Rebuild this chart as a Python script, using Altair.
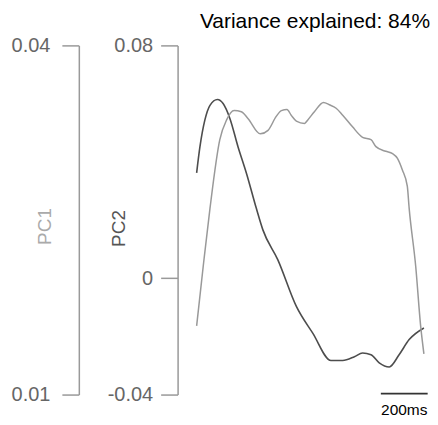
import altair as alt
import pandas as pd

# PC2 (dark line): time in ms, value
pc2_t = [3, 17, 38, 60, 92, 116, 145, 180, 216, 258, 286, 350, 429, 499, 577, 627, 677, 712, 748, 783, 826, 868, 911, 974]
pc2_v = [0.0362, 0.0451, 0.0543, 0.0594, 0.0614, 0.0600, 0.0549, 0.0451, 0.0360, 0.0240, 0.0166, 0.0063,
         -0.0097, -0.0189, -0.0283, -0.0283, -0.0270, -0.0257, -0.0263, -0.0291, -0.0305, -0.0263, -0.0211, -0.0171]

# PC1 (gray line)
pc1_t = [3, 31, 60, 102, 131, 163, 194, 223, 275, 308, 343, 365, 389, 407, 429, 464, 478, 506, 545, 570, 599,
         627, 669, 712, 748, 769, 811, 840, 861, 882, 903, 911, 939, 960, 974]
pc1_v = [0.0159, 0.0210, 0.0260, 0.0319, 0.0336, 0.0344, 0.0343, 0.0337, 0.0324, 0.0327, 0.0339, 0.0344,
         0.0345, 0.0340, 0.0335, 0.0333, 0.0336, 0.0343, 0.0351, 0.0349, 0.0346, 0.0340, 0.0330, 0.0321,
         0.0319, 0.0313, 0.0309, 0.0307, 0.0303, 0.0293, 0.0279, 0.0260, 0.0210, 0.0159, 0.0135]

pc1_ticks = [0.01, 0.04]
pc2_ticks = [-0.04, 0, 0.08]

bar_start = [790]
bar_end = [990]
bar_label = ["200ms"]
title_text = "Variance explained: 84%"

FONT = "Liberation Sans"

df1 = pd.DataFrame({"t": pc1_t, "v": pc1_v})
df2 = pd.DataFrame({"t": pc2_t, "v": pc2_v})
dfbar = pd.DataFrame({"s": bar_start, "e": bar_end, "m": [(a + b) / 2 for a, b in zip(bar_start, bar_end)], "lab": bar_label})

xscale = alt.Scale(domain=[-40, 1000], nice=False, zero=False)

label_expr = "datum.value == 0 ? '0' : (datum.value < 0 ? '-' : '') + format(abs(datum.value), '.2f')"

pc2 = alt.Chart(df2).mark_line(color="#4d4d4d", strokeWidth=1.6, interpolate="monotone").encode(
    x=alt.X("t:Q", scale=xscale, axis=None),
    y=alt.Y("v:Q", scale=alt.Scale(domain=[-0.04, 0.08], nice=False, zero=False),
            axis=alt.Axis(orient="left", offset=9, values=pc2_ticks, title="PC2",
                          tickSize=17, tickColor="#999999", tickWidth=1.5,
                          domainColor="#999999", domainWidth=1.5,
                          labelFont=FONT, labelFontSize=20, labelColor="#666666", labelPadding=8,
                          labelExpr=label_expr, labelOverlap=False, labelFlush=False, grid=False,
                          titleFont=FONT, titleFontSize=19, titleFontWeight="normal", titleColor="#555555",
                          titleAngle=-90, titleAlign="center", titleBaseline="middle",
                          titleX=-59, titleY=183)),
)

pc1 = alt.Chart(df1).mark_line(color="#999999", strokeWidth=1.5, interpolate="monotone").encode(
    x=alt.X("t:Q", scale=xscale, axis=None),
    y=alt.Y("v:Q", scale=alt.Scale(domain=[0.01, 0.04], nice=False, zero=False),
            axis=alt.Axis(orient="left", offset=108, values=pc1_ticks, title="PC1",
                          tickSize=17, tickColor="#999999", tickWidth=1.5,
                          domainColor="#999999", domainWidth=1.5,
                          labelFont=FONT, labelFontSize=20, labelColor="#666666", labelPadding=12,
                          labelExpr=label_expr, labelOverlap=False, labelFlush=False, grid=False,
                          titleFont=FONT, titleFontSize=19, titleFontWeight="normal", titleColor="#aaaaaa",
                          titleAngle=-90, titleAlign="center", titleBaseline="middle",
                          titleX=-34, titleY=181)),
)

bar = alt.Chart(dfbar).mark_rule(color="#333333", strokeWidth=1.8).encode(
    x=alt.X("s:Q", scale=xscale, axis=None),
    x2="e:Q",
    y=alt.value(349),
)

bartext = alt.Chart(dfbar).mark_text(font=FONT, fontSize=15.5, color="#000000", baseline="middle").encode(
    x=alt.X("m:Q", scale=xscale, axis=None),
    y=alt.value(365),
    text="lab:N",
)

chart = alt.layer(pc2, pc1, bar, bartext).resolve_scale(y="independent").properties(
    width=244,
    height=350,
    autosize=alt.AutoSizeParams(type="none"),
    padding={"left": 179, "top": 37, "right": 0, "bottom": 22},
    title=alt.TitleParams(title_text, anchor="end", fontSize=21, font=FONT, fontWeight="normal",
                          color="#000000", offset=3),
).configure_view(stroke=None)

chart.save("out.html", embed_options={"renderer": "svg", "actions": False})
